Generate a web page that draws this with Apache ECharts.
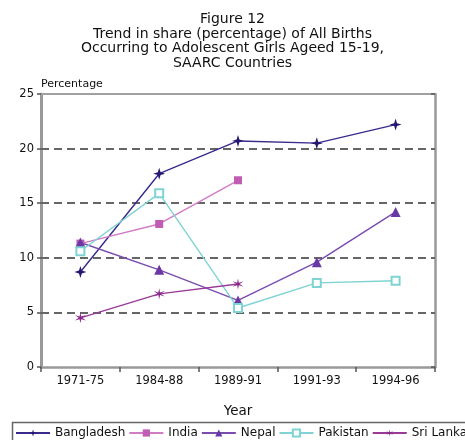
<!DOCTYPE html>
<html>
<head>
<meta charset="utf-8">
<script src="https://cdn.jsdelivr.net/npm/echarts@6/dist/echarts.min.js"></script>
<style>
  html, body { margin: 0; padding: 0; background: #fff; }
  #chart { width: 465px; height: 440px; }
</style>
</head>
<body>
<div id="chart"></div>
<script>
// Year groups along the horizontal axis
const periods = ['1971-75', '1984-88', '1989-91', '1991-93', '1994-96'];

// Share (%) of all births occurring to girls aged 15-19
const bangladesh = [8.7, 17.7, 20.7, 20.5, 22.2];
const india      = [11.3, 13.1, 17.1, null, null];
const nepal      = [11.4, 8.9, 6.1, 9.6, 14.2];
const pakistan   = [10.6, 15.9, 5.4, 7.7, 7.9];
const sriLanka   = [4.5, 6.7, 7.6, null, null];

// Dashed reference levels inside the plot
const gridLevels = [5, 10, 15, 20];

const titleLines = [
  'Figure 12',
  'Trend in share (percentage) of All Births',
  'Occurring to Adolescent Girls Ageed 15-19,',
  'SAARC Countries'
];

const FONT = '"DejaVu Sans", "Liberation Sans", Arial, sans-serif';

const star4 = 'path://M0,-6L1.4,-1.4L6,0L1.4,1.4L0,6L-1.4,1.4L-6,0L-1.4,-1.4Z';
const star6 = 'path://M0,-6L0.8,-1.4L5.2,-3L1.6,0L5.2,3L0.8,1.4L0,6L-0.8,1.4L-5.2,3L-1.6,0L-5.2,-3L-0.8,-1.4Z';

function lineSeries(name, data, color, markerColor, symbol, size, extra) {
  return Object.assign({
    name: name,
    type: 'line',
    data: data,
    symbol: symbol,
    symbolSize: size,
    showAllSymbol: true,
    connectNulls: false,
    lineStyle: { color: color, width: 1.4 },
    itemStyle: { color: markerColor },
    z: 5
  }, extra || {});
}

const chart = echarts.init(document.getElementById('chart'));
chart.setOption({
  animation: false,
  backgroundColor: '#fff',
  title: {
    text: titleLines.join('\n'),
    left: 'center',
    top: 7,
    textStyle: { fontFamily: FONT, fontSize: 14, fontWeight: 'normal', color: '#111', lineHeight: 14.7 }
  },
  grid: { left: 41, right: 30, top: 94, bottom: 73, show: false },
  legend: {
    left: 15,
    top: 427,
    padding: 0,
    width: 700,
    itemGap: 3,
    itemWidth: 34,
    itemHeight: 9,
    textStyle: { fontFamily: FONT, fontSize: 12, color: '#111' },
    data: ['Bangladesh', 'India', 'Nepal', 'Pakistan', 'Sri Lanka']
  },
  graphic: [{
    type: 'rect',
    left: 10, top: 420,
    shape: { width: 470, height: 30 },
    style: { fill: 'none', stroke: '#666', lineWidth: 1.5 },
    z: -1
  }],
  xAxis: [{
    type: 'category',
    data: periods,
    boundaryGap: true,
    name: 'Year',
    nameLocation: 'middle',
    nameGap: 37,
    nameTextStyle: { fontFamily: FONT, fontSize: 13.5, color: '#111' },
    axisLine: { onZero: false, lineStyle: { color: '#999', width: 2.5 } },
    axisTick: { show: true, inside: false, length: 5, lineStyle: { color: '#555', width: 1.5 } },
    axisLabel: { fontFamily: FONT, fontSize: 11.5, color: '#111', margin: 8, interval: 0 },
    splitLine: { show: false }
  }, {
    type: 'category',
    data: periods,
    position: 'top',
    axisLine: { show: true, onZero: false, lineStyle: { color: '#a0a0a0', width: 2 } },
    axisTick: { show: false },
    axisLabel: { show: false }
  }],
  yAxis: [{
    type: 'value',
    min: 0,
    max: 25,
    interval: 5,
    name: 'Percentage',
    nameLocation: 'end',
    nameGap: 4,
    nameTextStyle: { fontFamily: FONT, fontSize: 11, color: '#111', align: 'left', padding: [0, 0, 0, 0] },
    axisLine: { show: true, onZero: false, lineStyle: { color: '#999', width: 3 } },
    axisTick: { show: true, length: 4, lineStyle: { color: '#555', width: 1.5 } },
    axisLabel: { fontFamily: FONT, fontSize: 11.5, color: '#111', margin: 7 },
    splitLine: { show: false }
  }, {
    type: 'value',
    min: 0,
    max: 25,
    interval: 5,
    position: 'right',
    axisLine: { show: true, onZero: false, lineStyle: { color: '#999', width: 2.5 } },
    axisTick: { show: true, inside: true, length: 4, lineStyle: { color: '#555', width: 1.5 } },
    axisLabel: { show: false },
    splitLine: { show: false }
  }],
  series: [
    {
      name: 'gridlines',
      type: 'line',
      data: [],
      z: 1,
      markLine: {
        silent: true,
        symbol: 'none',
        label: { show: false },
        lineStyle: { color: '#666', width: 2, type: [8, 5] },
        data: gridLevels.map(v => ({ yAxis: v }))
      }
    },
    lineSeries('Bangladesh', bangladesh, '#3a2a8c', '#241870', star4, 12),
    lineSeries('India', india, '#d27cc6', '#c05cb2', 'rect', 8),
    lineSeries('Nepal', nepal, '#7a4cb0', '#6a38a4', 'triangle', 10),
    lineSeries('Pakistan', pakistan, '#7fd3d3', '#7fd3d3', 'emptyRect', 8,
      { itemStyle: { color: '#7fd3d3', borderColor: '#7fd3d3', borderWidth: 1.3 } }),
    lineSeries('Sri Lanka', sriLanka, '#9a3a98', '#8a2a8c', star6, 11)
  ]
});
</script>
</body>
</html>
